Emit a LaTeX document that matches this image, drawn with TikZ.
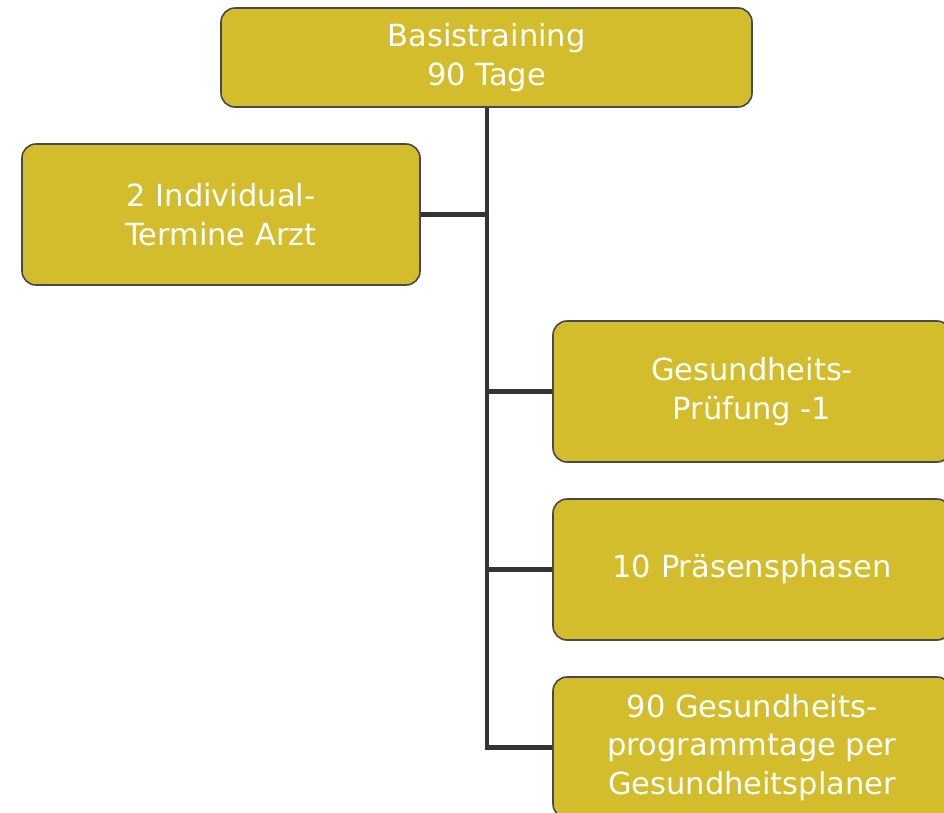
\documentclass[tikz,border=0pt]{standalone}
\usepackage{fontspec}
\setmainfont{DejaVu Sans}
\definecolor{boxgold}{HTML}{D3BD2C}
\definecolor{linegray}{HTML}{343438}
\begin{document}
\begin{tikzpicture}[x=1pt,y=-1pt,
  box/.style={draw=linegray!90!white,line width=1.6pt,fill=boxgold,rounded corners=14pt,
    text=white,align=center,inner sep=0pt,font=\fontsize{30.5}{38.5}\selectfont},
  link/.style={draw=linegray,line width=4.5pt}]
\clip (0,0) rectangle (944,812);
\node[box,minimum width=531pt,minimum height=99pt] (top) at (486.5,57.5) {Basistraining\\ 90 Tage};
\node[box,minimum width=398pt,minimum height=141pt] (arzt) at (221,214.5) {2 Individual-\\Termine Arzt};
\node[box,minimum width=398pt,minimum height=141pt] (pruef) at (752,391.5) {Gesundheits-\\Prüfung -1};
\node[box,minimum width=398pt,minimum height=141pt] (phase) at (752,569.5) {10 Präsensphasen};
\node[box,minimum width=398pt,minimum height=141pt] (plan) at (752,747.5) {90 Gesundheits-\\programmtage per\\Gesundheitsplaner};
\coordinate (trunk) at (487,747.5);
\draw[link] (top.south -| trunk) -- (trunk);
\draw[link] (arzt.east) -- (arzt.east -| trunk);
\draw[link] (pruef.west -| trunk) -- (pruef.west);
\draw[link] (phase.west -| trunk) -- (phase.west);
\draw[link] ([xshift=-2.25pt]trunk) -- (plan.west);
\end{tikzpicture}
\end{document}
